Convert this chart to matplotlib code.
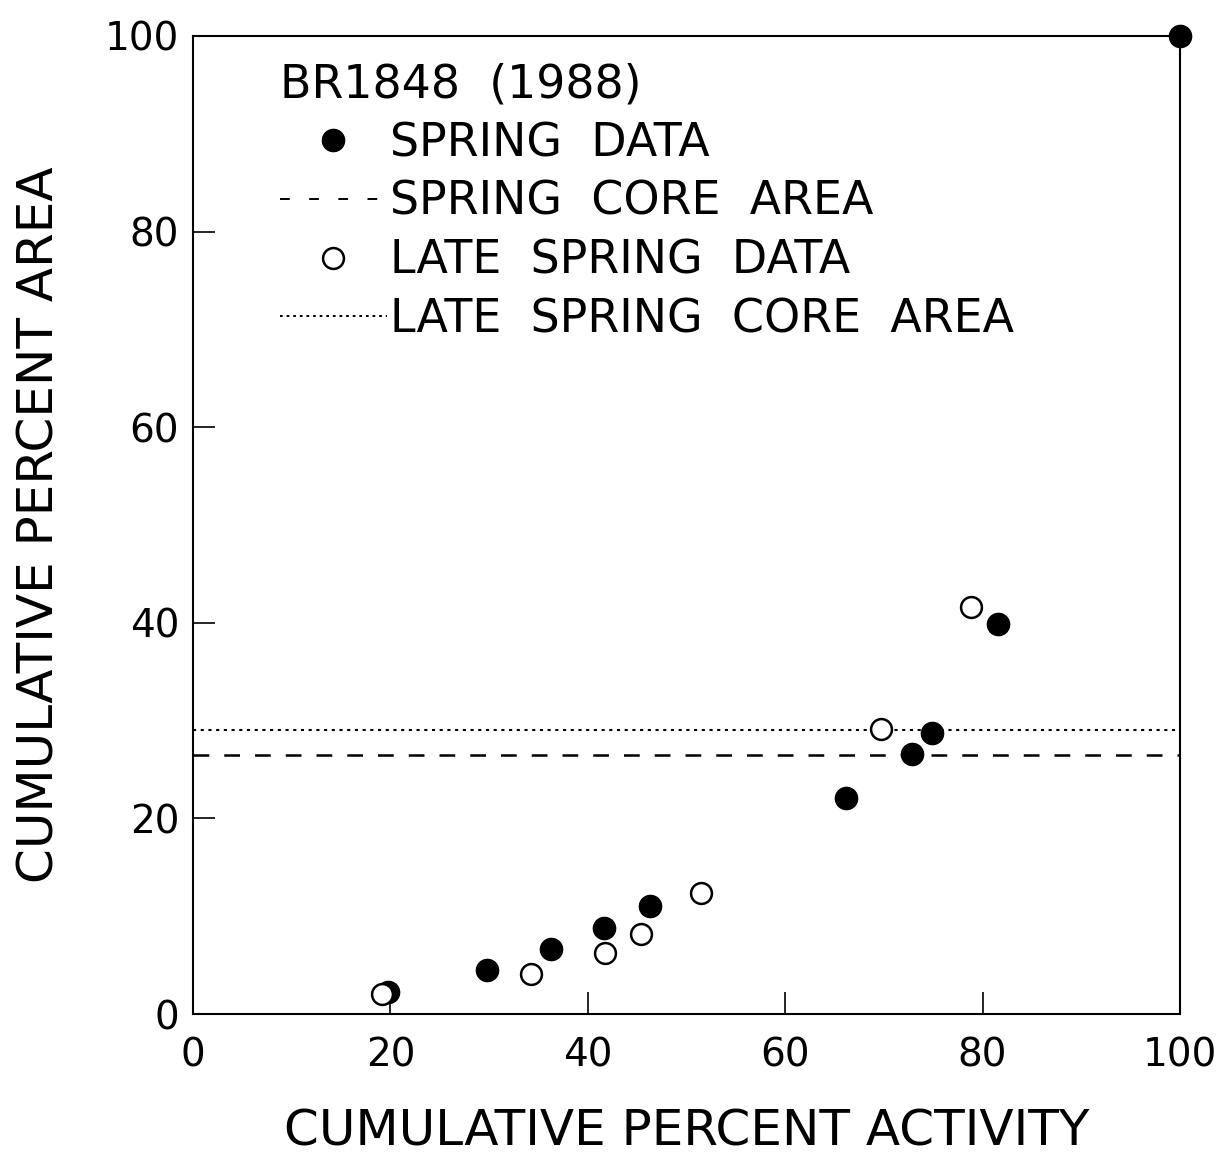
import matplotlib.pyplot as plt
from matplotlib.lines import Line2D

# values
spring_x = [19.8, 29.8, 36.3, 41.6, 46.3, 66.2, 72.8, 74.9, 81.6, 100.0]
spring_y = [2.3, 4.5, 6.7, 8.8, 11.1, 22.1, 26.6, 28.7, 39.9, 100.0]
late_x = [19.1, 34.2, 41.7, 45.4, 51.5, 69.7, 78.8]
late_y = [2.1, 4.1, 6.2, 8.2, 12.4, 29.1, 41.6]
spring_core = 26.5
late_core = 29.0

ticks = [0, 20, 40, 60, 80, 100]
font = 'DejaVu Sans'

fig = plt.figure(figsize=(12.17, 11.59), dpi=100)
ax = fig.add_axes([0.1586, 0.125, 0.811, 0.844])

ax.axhline(spring_core, color='black', lw=1.8, dashes=(6.3, 6.0))
ax.axhline(late_core, color='black', lw=1.5, dashes=(1.5, 2.2))
ax.plot(spring_x, spring_y, 'o', color='black', ms=16, clip_on=False, zorder=3)
ax.plot(late_x, late_y, 'o', mfc='white', mec='black', mew=1.8, ms=15,
        clip_on=False, zorder=3)

ax.set_xlim(0, 100)
ax.set_ylim(0, 100)
ax.set_xticks(ticks)
ax.set_yticks(ticks)
ax.tick_params(direction='in', length=16, width=1.2, labelsize=28)
ax.tick_params(axis='x', pad=16)
ax.tick_params(axis='y', pad=10)
for lab in ax.get_xticklabels() + ax.get_yticklabels():
    lab.set_fontfamily(font)
for s in ax.spines.values():
    s.set_linewidth(1.5)

ax.set_xlabel('CUMULATIVE PERCENT ACTIVITY', fontsize=36, family=font,
              labelpad=24)
ax.set_ylabel('CUMULATIVE PERCENT AREA', fontsize=36, family=font,
              labelpad=30)

handles = [
    Line2D([], [], ls='none', marker='o', color='black', ms=16),
    Line2D([], [], color='black', lw=1.4, dashes=(5, 10)),
    Line2D([], [], ls='none', marker='o', mfc='white', mec='black', mew=1.8, ms=15),
    Line2D([], [], color='black', lw=1.4, dashes=(1.4, 2.0)),
]
labels = ['SPRING  DATA', 'SPRING  CORE  AREA', 'LATE  SPRING  DATA',
          'LATE  SPRING  CORE  AREA']
leg = ax.legend(handles, labels, title='BR1848  (1988)', loc='upper left',
                bbox_to_anchor=(0.088, 0.973), frameon=False,
                prop={'family': font, 'size': 33}, handlelength=2.34,
                handletextpad=0.07, labelspacing=0.30, alignment='left',
                borderpad=0, borderaxespad=0)
leg.get_title().set_fontsize(33)
leg.get_title().set_fontfamily(font)

fig.savefig('out.png', dpi=100)
